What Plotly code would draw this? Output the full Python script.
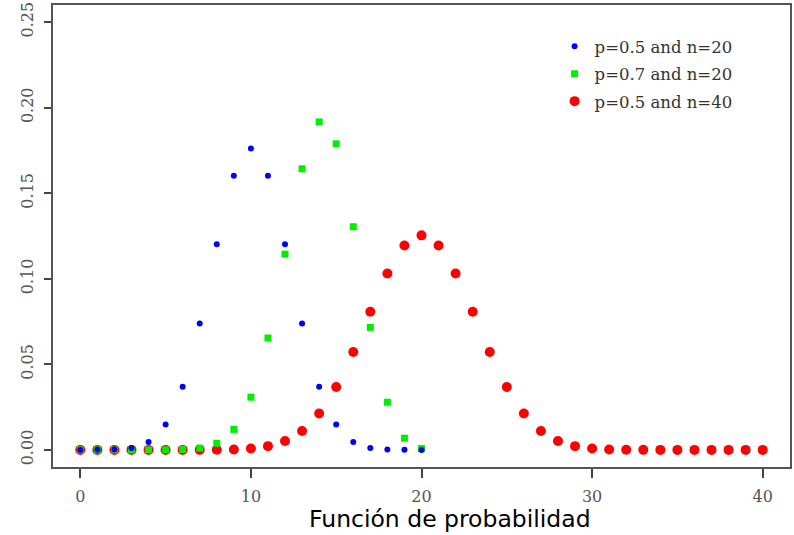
import plotly.graph_objects as go

k20 = list(range(0, 21))
k40 = list(range(0, 41))

p05_n20 = [0.00000095, 0.000019, 0.000181, 0.001087, 0.004621, 0.014786, 0.036964,
           0.073929, 0.120134, 0.160179, 0.176197, 0.160179, 0.120134, 0.073929,
           0.036964, 0.014786, 0.004621, 0.001087, 0.000181, 0.000019, 0.00000095]

p07_n20 = [0.0, 0.0, 0.00000004, 0.00000052, 0.000005, 0.0000374, 0.000218, 0.001018,
           0.003862, 0.011983, 0.030817, 0.065370, 0.114397, 0.164262, 0.191639,
           0.178863, 0.130421, 0.071604, 0.027846, 0.006839, 0.000798]

p05_n40 = [0.0, 0.0, 0.0, 0.0, 0.0000001, 0.0000008, 0.0000045, 0.000021, 0.00008,
           0.000273, 0.000819, 0.002183, 0.005196, 0.011084, 0.021257, 0.036704,
           0.057214, 0.080700, 0.103118, 0.119401, 0.125371, 0.119401, 0.103118,
           0.080700, 0.057214, 0.036704, 0.021257, 0.011084, 0.005196, 0.002183,
           0.000819, 0.000273, 0.00008, 0.000021, 0.0000045, 0.0000008, 0.0000001,
           0.0, 0.0, 0.0, 0.0]

names = ["p=0.5 and n=20", "p=0.7 and n=20", "p=0.5 and n=40"]
x_ticks = [0, 10, 20, 30, 40]
y_ticks = [0.00, 0.05, 0.10, 0.15, 0.20, 0.25]
title_text = "Función de probabilidad"

fig = go.Figure()
fig.add_trace(go.Scatter(x=k40, y=p05_n40, mode="markers", name=names[2],
                         legendgroup="c", legendrank=3,
                         marker=dict(color="#ff0000", size=10, symbol="circle",
                                     line=dict(width=0))))
fig.add_trace(go.Scatter(x=k20, y=p07_n20, mode="markers", name=names[1],
                         legendgroup="b", legendrank=2,
                         marker=dict(color="#00ee00", size=7, symbol="square",
                                     line=dict(width=0))))
fig.add_trace(go.Scatter(x=k20, y=p05_n20, mode="markers", name=names[0],
                         legendgroup="a", legendrank=1,
                         marker=dict(color="#0000ff", size=6, symbol="circle",
                                     line=dict(width=0))))

axis_font = dict(family="DejaVu Serif", size=16, color="#555555")
fig.update_layout(
    width=794, height=535,
    margin=dict(l=53, r=2, t=5, b=68),
    plot_bgcolor="white", paper_bgcolor="white",
    showlegend=True,
    legend=dict(x=0.6806, y=0.948, xanchor="left", yanchor="top",
                bgcolor="rgba(0,0,0,0)", borderwidth=0,
                font=dict(family="DejaVu Serif", size=16.5, color="#333333"),
                itemwidth=30, tracegroupgap=3, traceorder="grouped"),
    xaxis=dict(range=[-1.6, 41.6], tickvals=x_ticks, ticktext=[str(v) for v in x_ticks],
               ticks="outside", ticklen=9, tickcolor="#444444", tickwidth=1.5,
               ticklabelstandoff=5,
               showline=True, linecolor="#555555", linewidth=1.5, mirror=True,
               showgrid=False, zeroline=False, tickfont=axis_font),
    yaxis=dict(range=[-0.01, 0.26], tickvals=y_ticks,
               ticktext=["%.2f" % v for v in y_ticks], tickangle=-90,
               ticks="outside", ticklen=7, tickcolor="#444444", tickwidth=1.5,
               ticklabelstandoff=5,
               showline=True, linecolor="#555555", linewidth=1.5, mirror=True,
               showgrid=False, zeroline=False, tickfont=axis_font),
    annotations=[dict(text=title_text, xref="paper", yref="paper",
                      x=0.5386, y=-0.1126, xanchor="center", yanchor="middle",
                      showarrow=False,
                      font=dict(family="DejaVu Sans", size=23.5, color="#000000"))],
)

fig.write_html("out.html", config={"displayModeBar": False},
               post_script="document.body.style.margin='0px';")
